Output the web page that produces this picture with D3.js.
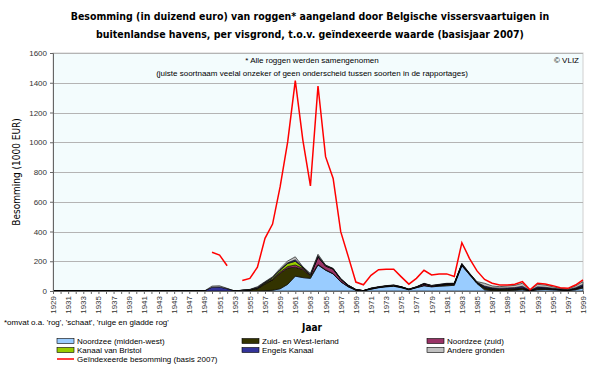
<!DOCTYPE html>
<html>
<head>
<meta charset="utf-8">
<script src="https://cdn.jsdelivr.net/npm/d3@7"></script>
<style>
  body { margin: 0; background: #fff; }
  text { font-family: "Liberation Sans", Arial, sans-serif; }
</style>
</head>
<body>
<div id="chart"></div>
<script>
// jaren 1929 - 1999
var years = d3.range(1929, 2000);
var zeros20 = [0,0,0,0,0,0,0,0,0,0,0,0,0,0,0,0,0,0,0,0]; // 1929-1948

var noordzeeMW = zeros20.concat([0,0,0,0,0,0,0,0,2,5,15,45,100,90,85,175,140,115,62,28,5,2,12,22,28,32,22,8,22,35,28,32,35,38,170,110,50,8,3,2,3,5,8,0,8,10,8,5,3,8,20]);
var zuidWestIerland = zeros20.concat([0,0,0,0,0,3,6,15,45,70,105,110,60,55,15,3,3,2,2,2,1,0,2,2,3,3,3,2,2,3,3,5,8,8,5,5,5,10,8,5,6,6,8,2,6,5,4,3,2,5,8]);
var noordzeeZuid = zeros20.concat([0,0,0,0,0,1,1,3,4,5,8,10,15,8,5,50,25,30,15,6,3,0,3,2,2,2,2,1,2,10,4,3,4,3,3,2,2,4,3,3,3,3,4,1,4,4,3,2,2,3,6]);
var kanaalBristol = zeros20.concat([0,0,0,0,0,0,1,3,5,8,12,20,25,6,3,2,1,1,1,0,0,0,0,0,0,0,0,0,0,0,0,0,0,0,0,0,0,3,2,3,3,2,2,0,2,0,0,0,0,0,0]);
var engelsKanaal = zeros20.concat([0,25,27,15,0,1,1,3,3,3,4,5,10,2,2,7,3,2,2,2,1,0,1,1,1,2,1,1,1,2,1,3,3,2,5,2,2,8,6,6,6,7,10,2,8,6,4,3,2,6,10]);
var andereGronden = zeros20.concat([0,8,8,3,0,1,2,5,4,5,8,12,20,2,8,10,3,2,3,2,1,0,2,2,2,2,1,1,2,2,2,2,2,1,3,2,4,19,12,10,13,15,20,2,17,15,10,5,4,12,19]);

var nulls21 = [null,null,null,null,null,null,null,null,null,null,null,null,null,null,null,null,null,null,null,null,null]; // 1929-1949
var geindexeerd = nulls21.concat([260,242,170,null,70,85,160,354,450,701,1004,1414,1015,706,1378,903,757,399,231,60,42,105,143,146,146,95,46,85,139,108,115,115,98,325,220,135,78,52,40,40,45,63,8,52,47,36,22,18,40,74]);

var yTicks = [0, 200, 400, 600, 800, 1000, 1200, 1400, 1600];

var keys = ["nmw", "zwi", "nz", "kb", "ek", "ag"];
var names = {
  nmw: "Noordzee (midden-west)",
  zwi: "Zuid- en West-Ierland",
  nz: "Noordzee (zuid)",
  kb: "Kanaal van Bristol",
  ek: "Engels Kanaal",
  ag: "Andere gronden"
};
var colors = {
  nmw: "#99ccff",
  zwi: "#333300",
  nz: "#993366",
  kb: "#99cc00",
  ek: "#333399",
  ag: "#c0c0c0"
};

var rows = years.map(function(yr, i) {
  return {
    year: yr,
    nmw: noordzeeMW[i],
    zwi: zuidWestIerland[i],
    nz: noordzeeZuid[i],
    kb: kanaalBristol[i],
    ek: engelsKanaal[i],
    ag: andereGronden[i],
    red: geindexeerd[i]
  };
});

var width = 600, height = 368;
var plotLeft = 53, plotRight = 583, plotTop = 53, plotBottom = 291;

var svg = d3.select("#chart").append("svg")
  .attr("width", width)
  .attr("height", height);

var x = d3.scaleLinear().domain([1929, 1999]).range([plotLeft, plotRight]);
var y = d3.scaleLinear().domain([0, 1600]).range([plotBottom, plotTop]);

// plot achtergrond
svg.append("rect")
  .attr("x", plotLeft).attr("y", plotTop)
  .attr("width", plotRight - plotLeft).attr("height", plotBottom - plotTop)
  .attr("fill", "#f3fcfd")
  .attr("stroke", "#d0d0d0")
  .attr("stroke-width", 1);

// rasterlijnen
svg.append("g").selectAll("line")
  .data(yTicks.filter(function(d){ return d > 0; }))
  .enter().append("line")
  .attr("x1", plotLeft).attr("x2", plotRight)
  .attr("y1", function(d){ return Math.round(y(d)) + 0.5; })
  .attr("y2", function(d){ return Math.round(y(d)) + 0.5; })
  .attr("stroke", "#b4b4b4")
  .attr("stroke-width", 1.2);

// gestapelde vlakken
var stack = d3.stack().keys(keys);
var series = stack(rows);

var area = d3.area()
  .x(function(d){ return x(d.data.year); })
  .y0(function(d){ return y(d[0]); })
  .y1(function(d){ return y(d[1]); });

svg.append("g").selectAll("path")
  .data(series)
  .enter().append("path")
  .attr("d", area)
  .attr("fill", function(d){ return colors[d.key]; })
  .attr("stroke", "#000")
  .attr("stroke-width", 0.6);

// geindexeerde besomming
var line = d3.line()
  .defined(function(d){ return d.red !== null; })
  .x(function(d){ return x(d.year); })
  .y(function(d){ return y(d.red); });

svg.append("path")
  .datum(rows)
  .attr("d", line)
  .attr("fill", "none")
  .attr("stroke", "#ff0000")
  .attr("stroke-width", 1.5);

// assen
var yAxis = d3.axisLeft(y).tickValues(yTicks).tickSize(3).tickPadding(3)
  .tickFormat(d3.format("d"));
var gy = svg.append("g")
  .attr("transform", "translate(" + plotLeft + ",0)")
  .call(yAxis);
gy.selectAll("text").attr("font-size", 8).attr("fill", "#333")
  .style("font-family", "'Liberation Sans', Arial, sans-serif");
gy.selectAll("line, path").attr("stroke", "#666");

var xAxis = d3.axisBottom(x).tickValues(years).tickSize(3)
  .tickFormat(function(d){ return (d - 1929) % 2 === 0 ? String(d) : ""; });
var gx = svg.append("g")
  .attr("transform", "translate(0," + plotBottom + ")")
  .call(xAxis);
gx.selectAll("line, path").attr("stroke", "#666");
gx.selectAll("text")
  .attr("font-size", 8).attr("fill", "#333")
  .style("font-family", "'Liberation Sans', Arial, sans-serif")
  .attr("transform", "rotate(-90)")
  .attr("text-anchor", "end")
  .attr("x", -5).attr("y", 0).attr("dy", "0.32em");

// titel
svg.append("text")
  .attr("x", 310).attr("y", 20)
  .attr("text-anchor", "middle")
  .attr("font-size", 10.5).attr("font-weight", "bold")
  .style("font-family", "'DejaVu Sans Condensed', 'DejaVu Sans', sans-serif")
  .text("Besomming (in duizend euro) van roggen* aangeland door Belgische vissersvaartuigen in");
svg.append("text")
  .attr("x", 310).attr("y", 38)
  .attr("text-anchor", "middle")
  .attr("font-size", 10.5).attr("font-weight", "bold")
  .style("font-family", "'DejaVu Sans Condensed', 'DejaVu Sans', sans-serif")
  .text("buitenlandse havens, per visgrond, t.o.v. geïndexeerde waarde (basisjaar 2007)");

// annotaties in plot
svg.append("text")
  .attr("x", 312).attr("y", 63)
  .attr("text-anchor", "middle").attr("font-size", 8)
  .text("* Alle roggen werden samengenomen");
svg.append("text")
  .attr("x", 312).attr("y", 76)
  .attr("text-anchor", "middle").attr("font-size", 8)
  .text("(juiste soortnaam veelal onzeker of geen onderscheid tussen soorten in de rapportages)");
svg.append("text")
  .attr("x", 579).attr("y", 63)
  .attr("text-anchor", "end").attr("font-size", 8)
  .text("© VLIZ");

// as titels
svg.append("text")
  .attr("transform", "translate(20,172) rotate(-90)")
  .attr("text-anchor", "middle").attr("font-size", 10)
  .style("font-family", "'DejaVu Sans Condensed', 'DejaVu Sans', sans-serif")
  .text("Besomming (1000 EUR)");
svg.append("text")
  .attr("x", 312).attr("y", 331)
  .attr("text-anchor", "middle").attr("font-size", 10).attr("font-weight", "bold")
  .style("font-family", "'DejaVu Sans Condensed', 'DejaVu Sans', sans-serif")
  .text("Jaar");

svg.append("text")
  .attr("x", 4).attr("y", 325)
  .attr("font-size", 8)
  .text("*omvat o.a. 'rog', 'schaat', 'ruige en gladde rog'");

// legende
var legendItems = [
  {key: "nmw", col: 0, row: 0},
  {key: "zwi", col: 1, row: 0},
  {key: "nz", col: 2, row: 0},
  {key: "kb", col: 0, row: 1},
  {key: "ek", col: 1, row: 1},
  {key: "ag", col: 2, row: 1}
];
var colX = [57, 242, 427];
var rowY = [341, 350, 359];

var lg = svg.append("g");
lg.selectAll("rect")
  .data(legendItems)
  .enter().append("rect")
  .attr("x", function(d){ return colX[d.col]; })
  .attr("y", function(d){ return rowY[d.row] - 2.5; })
  .attr("width", 17).attr("height", 5)
  .attr("fill", function(d){ return colors[d.key]; })
  .attr("stroke", "#000").attr("stroke-width", 0.6);
lg.selectAll("text")
  .data(legendItems)
  .enter().append("text")
  .attr("x", function(d){ return colX[d.col] + 20; })
  .attr("y", function(d){ return rowY[d.row]; })
  .attr("dy", "0.35em")
  .attr("font-size", 8)
  .text(function(d){ return names[d.key]; });

lg.append("line")
  .attr("x1", colX[0]).attr("x2", colX[0] + 17)
  .attr("y1", rowY[2]).attr("y2", rowY[2])
  .attr("stroke", "#ff0000").attr("stroke-width", 1.5);
lg.append("text")
  .attr("x", colX[0] + 20).attr("y", rowY[2]).attr("dy", "0.35em")
  .attr("font-size", 8)
  .text("Geïndexeerde besomming (basis 2007)");
</script>
</body>
</html>
